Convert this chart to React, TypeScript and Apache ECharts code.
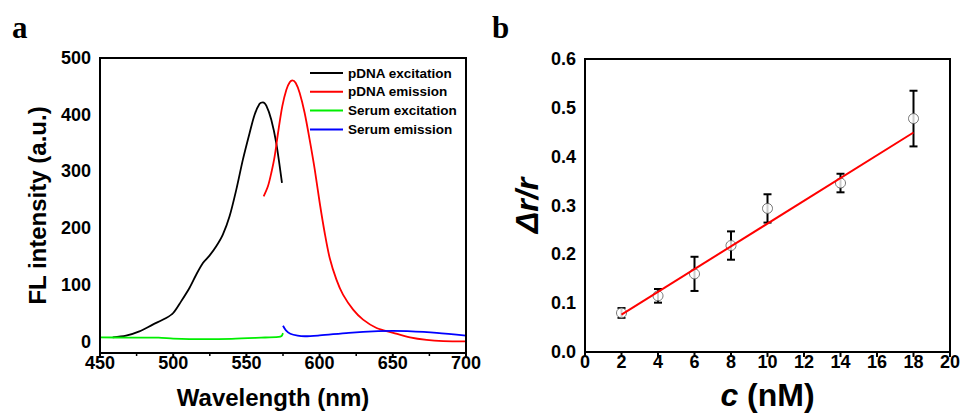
import React, { useEffect, useRef } from "react";
import * as echarts from "echarts";

// ---------- Panel a: fluorescence spectra ----------
const pdnaExcWl = [458.7, 467.8, 476.9, 486.0, 495.2, 500.0, 505.4, 511.1, 515.7, 520.3, 524.8, 529.4, 533.9, 538.5, 543.1, 547.6, 552.2, 555.6, 559.0, 561.3, 563.6, 567.0, 570.4, 574.3];
const pdnaExcInt = [7.6, 10.6, 18.2, 30.0, 41.7, 50.5, 71.0, 94.6, 118.0, 138.7, 151.6, 168.0, 188.6, 221.0, 268.0, 320.8, 367.8, 400.0, 419.5, 421.9, 416.0, 391.3, 350.0, 279.7];

const pdnaEmWl = [561.8, 564.7, 567.0, 569.3, 571.6, 574.5, 577.3, 579.6, 581.4, 583.7, 586.4, 589.8, 593.2, 596.7, 600.1, 603.5, 606.9, 611.5, 616.0, 622.9, 629.7, 638.9, 650.3, 661.7, 673.1, 684.5, 700.0];
const pdnaEmInt = [256.2, 273.8, 297.3, 326.7, 367.8, 414.8, 444.2, 457.1, 460.6, 455.9, 438.3, 403.1, 356.0, 303.2, 244.4, 191.5, 147.5, 109.3, 82.8, 56.4, 38.8, 24.1, 15.5, 7.5, 3.0, 1.0, 0.5];

const serumExcWl = [450, 470, 490, 500, 520, 540, 560, 572, 574, 575];
const serumExcInt = [7.5, 7.2, 7.0, 5.5, 4.5, 5.0, 7.0, 8.5, 10.0, 15.0];

const serumEmWl = [575, 577, 580, 585, 590, 600, 620, 640, 650, 660, 680, 700];
const serumEmInt = [28.0, 20.0, 14.0, 10.5, 9.5, 11.0, 15.5, 18.5, 19.0, 18.5, 15.5, 10.5];

const seriesNamesA = ["pDNA excitation", "pDNA emission", "Serum excitation", "Serum emission"];
const seriesColorsA = ["#000000", "#ff0000", "#00ee00", "#0000ff"];

const xRangeA = [450, 700];
const yRangeA = [-20, 500];
const xTicksA = [450, 500, 550, 600, 650, 700];
const yTicksA = [0, 100, 200, 300, 400, 500];

// ---------- Panel b: calibration ----------
const concNM = [2, 4, 6, 8, 10, 14, 18];
const ratio = [0.080, 0.115, 0.160, 0.218, 0.294, 0.346, 0.478];
const ratioErr = [0.010, 0.014, 0.035, 0.029, 0.029, 0.019, 0.057];
const fitX = [2, 18];
const fitY = [0.0766, 0.4495];

const xRangeB = [0, 20];
const yRangeB = [0, 0.6];
const xTicksB = [0, 2, 4, 6, 8, 10, 12, 14, 16, 18, 20];
const yTicksB = [0, 0.1, 0.2, 0.3, 0.4, 0.5, 0.6];

// layout
const gridA = { left: 100, top: 58, width: 366, height: 295 };
const gridB = { left: 585, top: 59, width: 365, height: 295 };
const MAJOR_PX = 5;
const MINOR_PX = 3;

const FONT = "'Liberation Sans', Arial, sans-serif";
const SERIF = "'Liberation Serif', 'Times New Roman', serif";

function pairs(xs: number[], ys: number[]) {
  return xs.map((x, i) => [x, ys[i]]);
}

function midpoints(t: number[]) {
  const out: number[] = [];
  for (let i = 1; i < t.length; i++) out.push((t[i - 1] + t[i]) / 2);
  return out;
}

function frameData(xr: number[], yr: number[]) {
  return [[xr[0], yr[0]], [xr[1], yr[0]], [xr[1], yr[1]], [xr[0], yr[1]], [xr[0], yr[0]]];
}

// zig-zag along the axis: out to the tick end and back, so one polyline holds all ticks
function xTickPath(ticks: number[], y0: number, len: number) {
  const d: number[][] = [];
  ticks.forEach((v) => {
    d.push([v, y0], [v, y0 - len], [v, y0]);
  });
  return d;
}
function yTickPath(ticks: number[], x0: number, len: number) {
  const d: number[][] = [];
  ticks.forEach((v) => {
    d.push([x0, v], [x0 - len, v], [x0, v]);
  });
  return d;
}

function frameSeries(idx: number, grid: any, xr: number[], yr: number[], xMaj: number[], xMin: number[], yMaj: number[], yMin: number[]) {
  const xPerPx = (xr[1] - xr[0]) / grid.width;
  const yPerPx = (yr[1] - yr[0]) / grid.height;
  const common = {
    type: "line",
    xAxisIndex: idx,
    yAxisIndex: idx,
    showSymbol: false,
    symbol: "none",
    clip: false,
    silent: true,
    z: 10,
  };
  const out: any[] = [
    { ...common, name: "frame" + idx, data: frameData(xr, yr), lineStyle: { color: "#000", width: 2, cap: "square", join: "miter" } },
    {
      ...common,
      name: "majorTicks" + idx,
      data: [...xTickPath(xMaj, yr[0], MAJOR_PX * yPerPx)],
      lineStyle: { color: "#000", width: 2 },
    },
    {
      ...common,
      name: "majorTicksY" + idx,
      data: [...yTickPath(yMaj, xr[0], MAJOR_PX * xPerPx)],
      lineStyle: { color: "#000", width: 2 },
    },
  ];
  if (xMin.length) {
    out.push({ ...common, name: "minorTicksX" + idx, data: xTickPath(xMin, yr[0], MINOR_PX * yPerPx), lineStyle: { color: "#000", width: 1.5 } });
  }
  if (yMin.length) {
    out.push({ ...common, name: "minorTicksY" + idx, data: yTickPath(yMin, xr[0], MINOR_PX * xPerPx), lineStyle: { color: "#000", width: 1.5 } });
  }
  return out;
}

export default function App() {
  const ref = useRef<HTMLDivElement>(null);
  useEffect(() => {
    document.body.style.margin = "0";
    const chart = echarts.init(ref.current!, undefined, { renderer: "svg" });
    const tickLabel = () => ({ color: "#000", fontFamily: FONT, fontWeight: "bold", fontSize: 18 });
    const axisParts = () => ({
      axisLine: { show: true, onZero: false, lineStyle: { color: "#000", width: 2 } },
      axisTick: { show: false },
      minorTick: { show: false },
      splitLine: { show: false },
    });
    const seriesA = [
      pairs(pdnaExcWl, pdnaExcInt),
      pairs(pdnaEmWl, pdnaEmInt),
      pairs(serumExcWl, serumExcInt),
      pairs(serumEmWl, serumEmInt),
    ].map((d, i) => ({
      name: seriesNamesA[i],
      type: "line",
      xAxisIndex: 0,
      yAxisIndex: 0,
      data: d,
      showSymbol: false,
      symbol: "none",
      smooth: 0.3,
      lineStyle: { color: seriesColorsA[i], width: 1.8 },
      itemStyle: { color: seriesColorsA[i] },
      z: 3,
    }));

    chart.setOption({
      animation: false,
      graphic: [
        { type: "text", left: 12, top: 12, style: { text: "a", font: `bold 31px ${SERIF}`, fill: "#000" } },
        { type: "text", left: 492, top: 12, style: { text: "b", font: `bold 31px ${SERIF}`, fill: "#000" } },
      ],
      legend: {
        data: seriesNamesA,
        orient: "vertical",
        left: 310,
        top: 66,
        padding: 0,
        itemWidth: 33,
        itemHeight: 14,
        itemGap: 4.8,
        icon: "path://M0,0 L33,0 L33,2 L0,2 Z",
        textStyle: { color: "#000", fontFamily: FONT, fontWeight: "bold", fontSize: 13.5 },
      },
      grid: [gridA, gridB],
      xAxis: [
        {
          type: "value",
          gridIndex: 0,
          min: xRangeA[0],
          max: xRangeA[1],
          interval: 50,
          name: "Wavelength (nm)",
          nameLocation: "middle",
          nameGap: 32,
          nameTextStyle: { color: "#000", fontFamily: FONT, fontWeight: "bold", fontSize: 24, padding: [0, 20, 0, 0] },
          ...axisParts(),
          axisLabel: { ...tickLabel(), margin: 1 },
        },
        {
          type: "value",
          gridIndex: 1,
          min: xRangeB[0],
          max: xRangeB[1],
          interval: 2,
          name: "{i|c} (nM)",
          nameLocation: "middle",
          nameGap: 27,
          nameTextStyle: {
            color: "#000",
            fontFamily: FONT,
            fontWeight: "bold",
            fontSize: 32,
            rich: { i: { fontStyle: "italic", fontWeight: "bold", fontSize: 32, fontFamily: FONT, color: "#000" } },
          },
          ...axisParts(),
          axisLabel: { ...tickLabel(), margin: 1 },
        },
      ],
      yAxis: [
        {
          type: "value",
          gridIndex: 0,
          min: yRangeA[0],
          max: yRangeA[1],
          splitNumber: 5,
          name: "FL intensity (a.u.)",
          nameLocation: "middle",
          nameGap: 51,
          nameTextStyle: { color: "#000", fontFamily: FONT, fontWeight: "bold", fontSize: 24 },
          ...axisParts(),
          axisLabel: {
            ...tickLabel(),
            margin: 9,
            formatter: (v: number) => (yTicksA.indexOf(v) < 0 ? "" : String(v)),
          },
        },
        {
          type: "value",
          gridIndex: 1,
          min: yRangeB[0],
          max: yRangeB[1],
          interval: 0.1,
          name: "Δr/r",
          nameLocation: "middle",
          nameGap: 42,
          nameTextStyle: { color: "#000", fontFamily: FONT, fontWeight: "bold", fontStyle: "italic", fontSize: 32 },
          ...axisParts(),
          axisLabel: { ...tickLabel(), margin: 9, formatter: (v: number) => v.toFixed(1) },
        },
      ],
      series: [
        ...seriesA,
        ...frameSeries(0, gridA, xRangeA, yRangeA, xTicksA, midpoints(xTicksA), yTicksA, midpoints(yTicksA)),
        ...frameSeries(1, gridB, xRangeB, yRangeB, xTicksB, [], yTicksB, midpoints(yTicksB)),
        {
          name: "error",
          type: "custom",
          xAxisIndex: 1,
          yAxisIndex: 1,
          data: concNM.map((c, i) => [c, ratio[i] - ratioErr[i], ratio[i] + ratioErr[i]]),
          encode: { x: 0, y: [1, 2] },
          renderItem: (params: any, api: any) => {
            const x = api.value(0);
            const lo = api.coord([x, api.value(1)]);
            const hi = api.coord([x, api.value(2)]);
            const hw = 4;
            const st = { stroke: "#000", lineWidth: 2 };
            return {
              type: "group",
              children: [
                { type: "line", shape: { x1: lo[0], y1: lo[1], x2: hi[0], y2: hi[1] }, style: st },
                { type: "line", shape: { x1: lo[0] - hw, y1: lo[1], x2: lo[0] + hw, y2: lo[1] }, style: st },
                { type: "line", shape: { x1: hi[0] - hw, y1: hi[1], x2: hi[0] + hw, y2: hi[1] }, style: st },
              ],
            };
          },
          z: 2,
        },
        {
          name: "data",
          type: "scatter",
          xAxisIndex: 1,
          yAxisIndex: 1,
          data: pairs(concNM, ratio),
          symbol: "circle",
          symbolSize: 10,
          itemStyle: { color: "#fff", borderColor: "#555", borderWidth: 1 },
          z: 3,
        },
        {
          name: "fit",
          type: "line",
          xAxisIndex: 1,
          yAxisIndex: 1,
          data: pairs(fitX, fitY),
          showSymbol: false,
          symbol: "none",
          lineStyle: { color: "#ff0000", width: 2 },
          z: 4,
        },
      ],
    });
    return () => chart.dispose();
  }, []);
  return <div ref={ref} style={{ width: 964, height: 416 }} />;
}
